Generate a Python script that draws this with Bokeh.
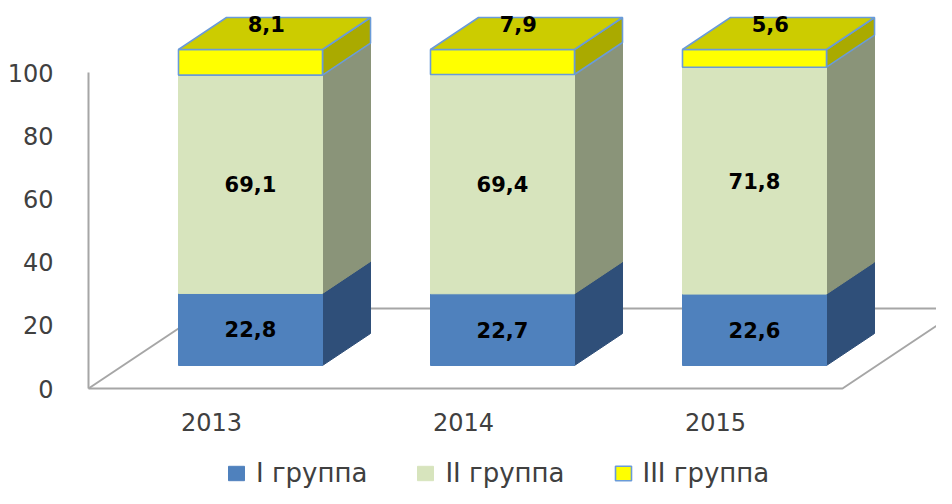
from bokeh.plotting import figure
from bokeh.models import Range1d, FixedTicker, Legend, LegendItem
from bokeh.core.properties import value
from bokeh.embed import file_html
from bokeh.resources import INLINE

# ---------------- data ----------------
years = ["2013", "2014", "2015"]
group1 = [22.8, 22.7, 22.6]
group2 = [69.1, 69.4, 71.8]
group3 = [8.1, 7.9, 5.6]
series_names = ["I группа", "II группа", "III группа"]
y_ticks = [0, 20, 40, 60, 80, 100]

# ---------------- styles ----------------
front_colors = ["#4F81BD", "#D7E4BD", "#FFFF00"]
side_colors = ["#2F4F79", "#8A9479", "#AAAA00"]
top_color = "#CCCC00"
edge_colors = ["#4F81BD", "#D7E4BD", "#6A9BD8"]
edge_widths = [1, 1, 1.6]
grey = "#A6A6A6"
text_grey = "#404040"
FONT = "DejaVu Sans"

# ---------------- projection / layout (pixels, figure coords) ----------------
W, H = 936, 488
PX_X = 252.0          # px per category step
PX_Y = 3.16           # px per value unit
X0 = 211.0            # x of category 0 (floor front)
Y0 = 388.0            # y of value 0 (floor front)
FRAME_L, FRAME_R, FRAME_T, FRAME_B = 84.0, float(W), 0.0, float(H)

bar_shift = 39 / PX_X     # bars sit deeper in the floor
bar_half = 72 / PX_X
base = 23 / PX_Y
ddx = 48 / PX_X           # bar depth
ddy = 32 / PX_Y
floor_l = (88 - X0) / PX_X
floor_r = (842 - X0) / PX_X
fdx = 120 / PX_X          # floor depth
fdy = 80 / PX_Y

p = figure(width=W, height=H, output_backend="svg", toolbar_location=None,
           x_range=Range1d((FRAME_L - X0) / PX_X, (FRAME_R - X0) / PX_X),
           y_range=Range1d((Y0 - FRAME_B) / PX_Y, (Y0 - FRAME_T) / PX_Y),
           min_border_left=int(FRAME_L), min_border_right=0,
           min_border_top=0, min_border_bottom=0,
           background_fill_color="white", border_fill_color="white")
p.outline_line_color = None
p.grid.visible = False

# floor and wall lines
p.line([floor_l, floor_l], [0, max(y_ticks)], line_color=grey, line_width=2)
p.line([floor_l + fdx, floor_r + fdx], [fdy, fdy], line_color=grey, line_width=2)
p.line([floor_l, floor_r, floor_r + fdx], [0, 0, fdy], line_color=grey, line_width=2)
p.line([floor_l, floor_l + fdx], [0, fdy], line_color=grey, line_width=2)

series = [group1, group2, group3]
cum = [0.0] * len(years)
front_renderers = []
label_x, label_y, label_t = [], [], []
top_x, top_y, top_t = [], [], []
for s, vals in enumerate(series):
    fx, fy, sx, sy, tx, ty = [], [], [], [], [], []
    for i, v in enumerate(vals):
        xl = i + bar_shift - bar_half
        xr = i + bar_shift + bar_half
        b = base + cum[i]
        t = b + v
        fx.append([xl, xr, xr, xl]); fy.append([b, b, t, t])
        sx.append([xr, xr + ddx, xr + ddx, xr]); sy.append([b, b + ddy, t + ddy, t])
        tx.append([xl, xl + ddx, xr + ddx, xr]); ty.append([t, t + ddy, t + ddy, t])
        txt = f"{v:.1f}".replace(".", ",")
        if s < len(series) - 1:
            label_x.append(i + bar_shift); label_y.append(b + v / 2); label_t.append(txt)
        else:
            top_x.append(i + bar_shift + ddx * 0.33); top_y.append(t + ddy * 0.8); top_t.append(txt)
        cum[i] += v
    p.patches(sx, sy, fill_color=side_colors[s], line_color=edge_colors[s] if s == 2 else side_colors[s],
              line_width=edge_widths[s])
    fr = p.patches(fx, fy, fill_color=front_colors[s], line_color=edge_colors[s], line_width=edge_widths[s])
    front_renderers.append(fr)
    if s == len(series) - 1:
        p.patches(tx, ty, fill_color=top_color, line_color=edge_colors[s], line_width=edge_widths[s])

p.text(label_x, label_y, text=label_t, text_align="center", text_baseline="middle",
       text_font=value(FONT), text_font_style="bold", text_font_size="21px", text_color="black")
p.text(top_x, top_y, text=top_t, text_align="center", text_baseline="middle",
       text_font=value(FONT), text_font_style="bold", text_font_size="21px", text_color="black")

# axes
p.yaxis.ticker = FixedTicker(ticks=y_ticks)
p.xaxis.ticker = FixedTicker(ticks=list(range(len(years))))
p.xaxis.major_label_overrides = {i: y for i, y in enumerate(years)}
p.xaxis.fixed_location = 0
for ax in (p.xaxis[0], p.yaxis[0]):
    ax.axis_line_color = None
    ax.major_tick_line_color = None
    ax.minor_tick_line_color = None
    ax.major_label_text_font = FONT
    ax.major_label_text_font_size = "24px"
    ax.major_label_text_color = text_grey
p.yaxis.major_label_standoff = 25
p.xaxis.major_label_standoff = 18

legend = Legend(items=[LegendItem(label=n, renderers=[r]) for n, r in zip(series_names, front_renderers)],
                location=(142, 0), orientation="horizontal",
                glyph_width=20, glyph_height=18, label_standoff=10, spacing=48,
                padding=0, margin=0, border_line_color=None, background_fill_alpha=0,
                label_text_font=FONT, label_text_font_size="26px", label_text_color=text_grey)
p.add_layout(legend, "center")

open("out.html", "w").write(file_html(p, INLINE))
